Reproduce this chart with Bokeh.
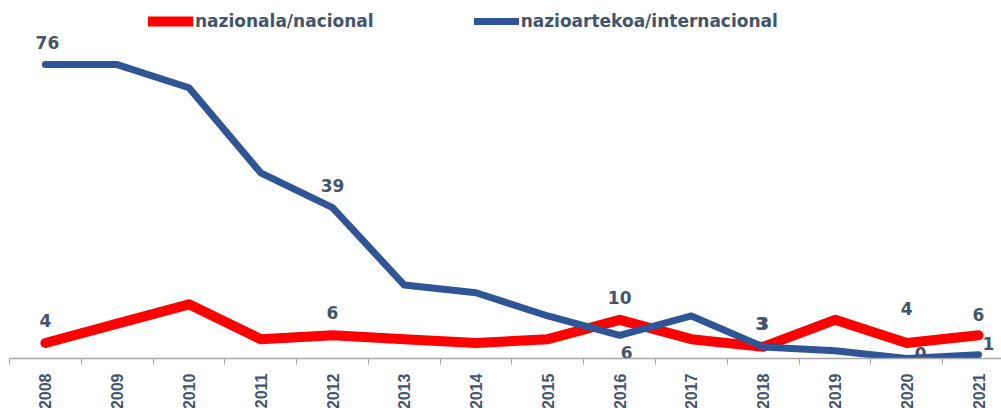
from bokeh.plotting import figure
from bokeh.models import ColumnDataSource, Range1d, FixedTicker, Legend, LegendItem
from bokeh.core.properties import value
from bokeh.embed import file_html
from bokeh.resources import INLINE
import math

years = [2008, 2009, 2010, 2011, 2012, 2013, 2014, 2015, 2016, 2017, 2018, 2019, 2020, 2021]
nacional = [4, 9, 14, 5, 6, 5, 4, 5, 10, 5, 3, 10, 4, 6]
internacional = [76, 76, 70, 48, 39, 19, 17, 11, 6, 11, 3, 2, 0, 1]
series_names = ["nazionala/nacional", "nazioartekoa/internacional"]

red_label_years = [2008, 2012, 2016, 2018, 2020, 2021]
blue_label_years = [2008, 2012, 2016, 2018, 2020, 2021]

# label layout (screen offsets)
red_dx = [0, 0, 0, 0, 0, 0]
red_dy = [-23, -23, -22, -23, -35, -21]
blue_dx = [2, 0, 7, -2, 14, 10]
blue_dy = [-22, -22, 17, -23, -5, -11]

RED = "#FF0000"
BLUE = "#2F5597"
TXT = "#44546A"

idx = list(range(len(years)))
src = ColumnDataSource(dict(x=idx, nac=nacional, inter=internacional))

p = figure(frame_width=992, frame_height=350, output_backend="svg", toolbar_location=None,
           x_range=Range1d(-0.5, 13.32), y_range=Range1d(0, 90.5),
           min_border_left=9, min_border_right=0, min_border_top=8, min_border_bottom=0)
p.outline_line_color = None
p.xgrid.visible = False
p.ygrid.visible = False
p.yaxis.visible = False

r_red = p.line("x", "nac", source=src, line_color=RED, line_width=10, line_cap="round", line_join="round")
r_blue = p.line("x", "inter", source=src, line_color=BLUE, line_width=7, line_cap="round", line_join="round")

def lab_src(label_years, vals, dx, dy):
    ii = [years.index(y) for y in label_years]
    return ColumnDataSource(dict(x=ii, y=[vals[i] for i in ii], t=[str(vals[i]) for i in ii], dx=dx, dy=dy))

for s in (lab_src(red_label_years, nacional, red_dx, red_dy), lab_src(blue_label_years, internacional, blue_dx, blue_dy)):
    p.text("x", "y", text="t", source=s, x_offset="dx", y_offset="dy",
           text_font=value("DejaVu Sans"), text_font_style="bold", text_font_size="17px",
           text_color=TXT, text_align="center", text_baseline="middle")

ax = p.xaxis[0]
ax.ticker = FixedTicker(ticks=idx, minor_ticks=[i - 0.5 for i in idx] + [len(idx) - 0.5])
ax.major_label_overrides = {i: str(y) for i, y in zip(idx, years)}
ax.major_label_orientation = math.pi / 2
ax.major_tick_line_color = None
ax.major_tick_out = 0
ax.major_tick_in = 0
ax.minor_tick_out = 6
ax.minor_tick_in = 0
ax.minor_tick_line_color = "#A6A6A6"
ax.axis_line_color = "#A6A6A6"
ax.axis_line_width = 1.5
ax.major_label_standoff = 9
ax.major_label_text_font = "Liberation Sans"
ax.major_label_text_font_style = "bold"
ax.major_label_text_font_size = "16px"
ax.major_label_text_color = TXT

legend = Legend(items=[LegendItem(label=series_names[0], renderers=[r_red]),
                       LegendItem(label=series_names[1], renderers=[r_blue])],
                orientation="horizontal", location=(139, 327),
                glyph_width=45, glyph_height=18, label_standoff=2, spacing=100, padding=0,
                margin=0, border_line_color=None, background_fill_alpha=0,
                label_text_font="DejaVu Sans", label_text_font_style="bold",
                label_text_font_size="17px", label_text_color=TXT)
p.add_layout(legend)

open("out.html", "w").write(file_html(p, INLINE))
